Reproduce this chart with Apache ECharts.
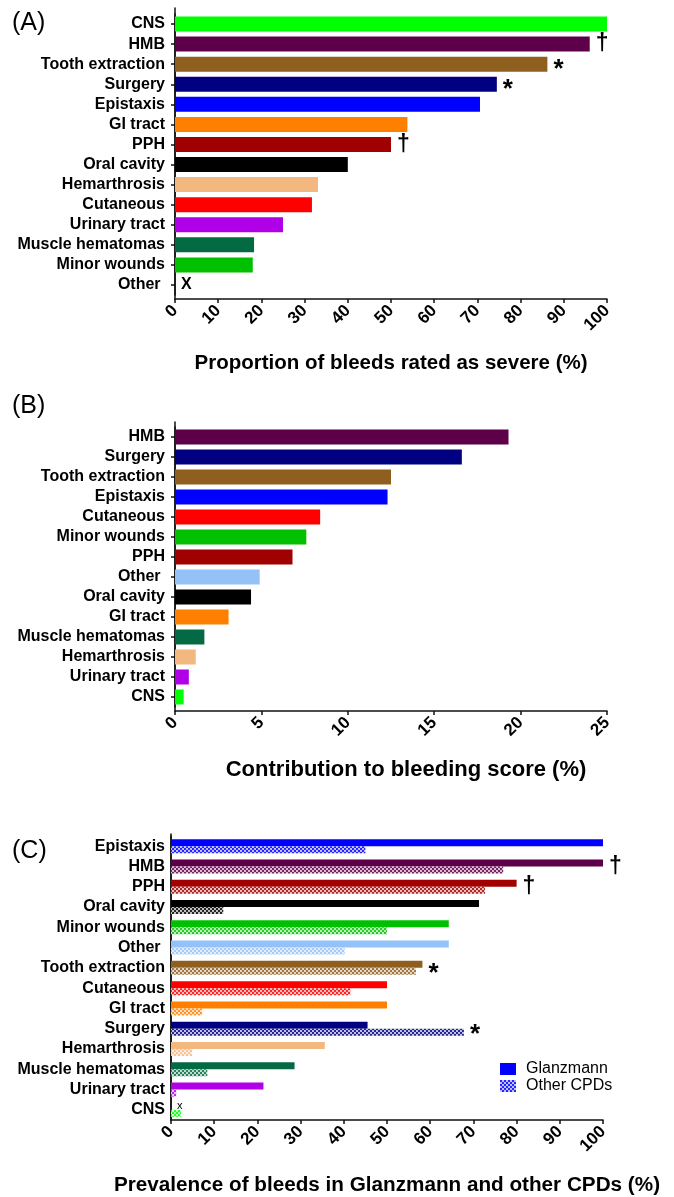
<!DOCTYPE html>
<html><head><meta charset="utf-8">
<script src="https://cdn.jsdelivr.net/npm/echarts@6/dist/echarts.min.js"></script>
<style>html,body{margin:0;padding:0;background:#fff}#c{width:674px;height:1197px}</style>
</head><body><div id="c"></div>
<script>
// ---- Data ----
const catA = ['CNS','HMB','Tooth extraction','Surgery','Epistaxis','GI tract','PPH','Oral cavity','Hemarthrosis','Cutaneous','Urinary tract','Muscle hematomas','Minor wounds','Other '];
const valA = [100,96,86.2,74.5,70.6,53.8,50,40,33.1,31.7,25,18.3,18,0];
const markA = ['','†','*','*','','','†','','','','','','','X'];

const catB = ['HMB','Surgery','Tooth extraction','Epistaxis','Cutaneous','Minor wounds','PPH','Other ','Oral cavity','GI tract','Muscle hematomas','Hemarthrosis','Urinary tract','CNS'];
const valB = [19.3,16.6,12.5,12.3,8.4,7.6,6.8,4.9,4.4,3.1,1.7,1.2,0.8,0.5];

const catC = ['Epistaxis','HMB','PPH','Oral cavity','Minor wounds','Other ','Tooth extraction','Cutaneous','GI tract','Surgery','Hemarthrosis','Muscle hematomas','Urinary tract','CNS'];
const glanzC = [100,100,80,71.3,64.3,64.3,58.2,50,50,45.5,35.6,28.6,21.4,0];
const otherC = [45,76.9,72.7,12.1,50,40.2,56.7,41.5,7.2,67.8,4.9,8.4,1.2,2.3];
const markG = ['','†','†','','','','*','','','','','','','x'];
const markO = ['','','','','','','','','','*','','','',''];

const ticksA = [0,100,10];
const ticksB = [0,25,5];
const ticksC = [0,100,10];

// ---- Styles ----
const colorMap = {'CNS':'#00FF00','HMB':'#5E0049','Tooth extraction':'#8F5F20','Surgery':'#000080','Epistaxis':'#0000FF','GI tract':'#FF8000','PPH':'#A00000','Oral cavity':'#000000','Hemarthrosis':'#F3B880','Cutaneous':'#FF0000','Urinary tract':'#B000E8','Muscle hematomas':'#046A44','Minor wounds':'#00C000','Other':'#93C1F8'};
const F = '"Liberation Sans", Arial, sans-serif';
function col(name){ return colorMap[name.trim()]; }
function hatch(hex){
  const c=document.createElement('canvas'); c.width=4; c.height=4;
  const g=c.getContext('2d');
  g.fillStyle='#fff'; g.fillRect(0,0,4,4);
  g.globalAlpha=0.25; g.fillStyle=hex; g.fillRect(0,0,4,4);
  g.globalAlpha=0.8; g.fillRect(0,0,2,2); g.fillRect(2,2,2,2);
  return {image:c, repeat:'repeat'};
}
function markLabel(m, dy){
  if(!m) return {show:false};
  return {show:true, position:'right', distance:6, formatter:m, color:'#000',
    fontFamily:F, fontWeight: m==='x'?'normal':'bold',
    fontSize: m==='x'?11:(m==='X'?16:(m==='*'?26:23)),
    offset:[0,(m==='*'?6:0)+(dy||0)]};
}

const axisLineStyle = {color:'#111', width:1.5};
function frameX(idx, t, name, gap, size, pad){
  return {gridIndex:idx, type:'value', min:t[0], max:t[1], interval:t[2],
    axisLine:{show:true, lineStyle:axisLineStyle},
    axisTick:{show:true, length:4, lineStyle:axisLineStyle},
    axisLabel:{rotate:45, margin:9, color:'#000', fontFamily:F, fontWeight:'bold', fontSize:17},
    splitLine:{show:false},
    name:name, nameLocation:'middle', nameGap:gap,
    nameTextStyle:{fontFamily:F, fontWeight:'bold', fontSize:size, color:'#000', padding:pad||0}};
}
function frameY(idx){
  return {gridIndex:idx, type:'value', min:0, max:1, axisLine:{show:true, lineStyle:axisLineStyle},
    axisTick:{show:false}, axisLabel:{show:false}, splitLine:{show:false}};
}
function mainX(idx, t){ return {gridIndex:idx, type:'value', min:t[0], max:t[1], show:false}; }
function mainY(idx, cats, ticks){
  return {gridIndex:idx, type:'category', data:cats, inverse:true,
    axisLine:{show:true, lineStyle:axisLineStyle},
    axisTick:{show:ticks, length:4, alignWithLabel:true, interval:0, lineStyle:axisLineStyle},
    axisLabel:{interval:0, margin:ticks?10:6, color:'#000', fontFamily:F, fontWeight:'bold', fontSize:16}};
}

const chart = echarts.init(document.getElementById('c'), null, {renderer:'canvas'});
chart.setOption({
  animation:false,
  backgroundColor:'#fff',
  title:[
    {text:'(A)', left:7, top:6, textStyle:{fontFamily:F, fontWeight:'normal', fontSize:25, color:'#000'}},
    {text:'(B)', left:7, top:389, textStyle:{fontFamily:F, fontWeight:'normal', fontSize:25, color:'#000'}},
    {text:'(C)', left:7, top:834, textStyle:{fontFamily:F, fontWeight:'normal', fontSize:25, color:'#000'}}
  ],
  legend:{data:['Glanzmann','Other CPDs'], orient:'vertical', left:495, top:1056, itemWidth:16, itemHeight:12, itemGap:1,
    icon:'rect', textStyle:{fontFamily:F, fontSize:16, color:'#000', padding:[0,0,0,5]}},
  grid:[
    {left:175, top:8, width:432, height:291},
    {left:175, top:14, width:432, height:281},
    {left:175, top:422, width:432, height:289},
    {left:175, top:427, width:432, height:280},
    {left:171, top:834, width:432, height:289},
    {left:171, top:836, width:432, height:284}
  ],
  xAxis:[
    frameX(0, ticksA, 'Proportion of bleeds rated as severe (%)', 54, 20.5),
    mainX(1, ticksA),
    frameX(2, ticksB, 'Contribution to bleeding score (%)', 48, 22, [0,0,0,30]),
    mainX(3, ticksB),
    frameX(4, ticksC, 'Prevalence of bleeds in Glanzmann and other CPDs (%)', 55, 20.7),
    mainX(5, ticksC)
  ],
  yAxis:[
    frameY(0), mainY(1, catA, true),
    frameY(2), mainY(3, catB, true),
    frameY(4), mainY(5, catC, false)
  ],
  series:[
    {name:'A', type:'bar', xAxisIndex:1, yAxisIndex:1, barWidth:15,
      data: valA.map((v,i)=>({value:v, itemStyle:{color:col(catA[i])}, label:markLabel(markA[i])}))},
    {name:'B', type:'bar', xAxisIndex:3, yAxisIndex:3, barWidth:15,
      data: valB.map((v,i)=>({value:v, itemStyle:{color:col(catB[i])}}))},
    {name:'Glanzmann', type:'bar', xAxisIndex:5, yAxisIndex:5, barWidth:7, barGap:'0%',
      itemStyle:{color:'#0000FF'},
      data: glanzC.map((v,i)=>({value:v, itemStyle:{color:col(catC[i])}, label:markLabel(markG[i], markG[i]==='x'?0:3.5)}))},
    {name:'Other CPDs', type:'bar', xAxisIndex:5, yAxisIndex:5, barWidth:7, barGap:'0%',
      itemStyle:{color:hatch('#0000FF')},
      data: otherC.map((v,i)=>({value:v, itemStyle:{color:hatch(col(catC[i]))}, label:markLabel(markO[i], -3.5)}))}
  ]
});
</script></body></html>
